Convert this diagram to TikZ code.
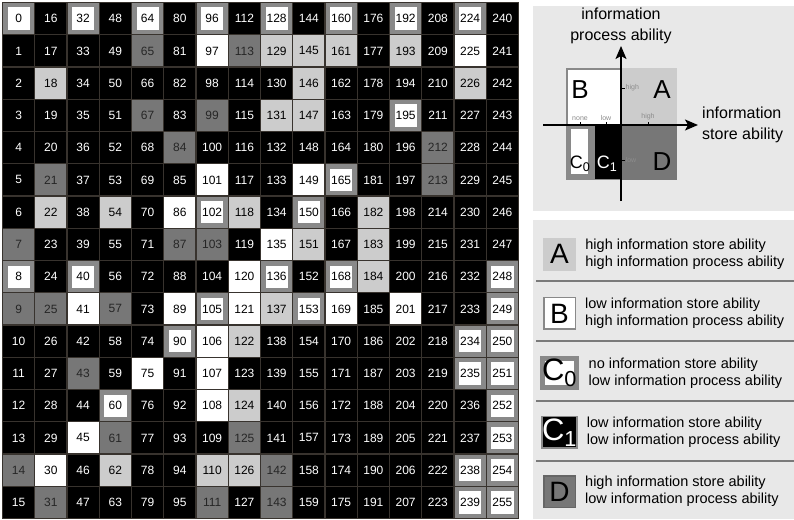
\documentclass[tikz,border=0pt]{standalone}
\usepackage{fontspec}
\setmainfont{Liberation Sans}
\usetikzlibrary{positioning,arrows.meta}
\definecolor{GridLine}{HTML}{38332E}
\definecolor{ClassA}{HTML}{CCCCCC}
\definecolor{ClassD}{HTML}{777777}
\definecolor{ClassCz}{HTML}{898989}
\definecolor{PanelBg}{HTML}{E8E8E8}
\definecolor{TickGray}{HTML}{8C8C8C}
\definecolor{SepGray}{HTML}{7A7A7A}
\tikzset{
  cell/.style={minimum size=32.25pt,inner sep=0pt,outer sep=0pt,
    font=\fontsize{12}{12}\selectfont},
  cell k/.style={cell,fill=black,text=white},
  cell a/.style={cell,fill=ClassA,text=black},
  cell b/.style={cell,fill=white,text=black},
  cell d/.style={cell,fill=ClassD,text=black!85},
  cell o/.style={cell,minimum size=27.25pt,draw=ClassCz,line width=5pt,
    fill=white,text=black},
  gridln/.style={draw=GridLine,line width=1.2pt},
  axis/.style={-{Stealth[length=13pt,width=11pt,inset=3pt]},line width=1.5pt},
  tick/.style={line width=0.7pt},
  ticklbl/.style={inner sep=1pt,font=\fontsize{7}{7}\selectfont,text=TickGray},
  axlbl/.style={inner sep=0pt,font=\fontsize{16}{21}\selectfont},
  qlbl/.style={inner sep=0pt,font=\fontsize{26}{26}\selectfont},
  qsub/.style={inner sep=0pt,font=\fontsize{18}{18}\selectfont},
  key/.style={minimum size=33pt,inner sep=0pt,font=\fontsize{28}{28}\selectfont},
  key a/.style={key,fill=ClassA},
  key b/.style={key,minimum size=31.5pt,fill=white,draw=ClassCz,line width=1.5pt},
  key o/.style={key,minimum size=28pt,fill=white,draw=ClassCz,line width=5pt,
    font=\fontsize{31}{31}\selectfont},
  key k/.style={key,minimum size=31.5pt,fill=black,draw=ClassCz,line width=1.5pt,
    text=white,font=\fontsize{31}{31}\selectfont},
  key d/.style={key,minimum size=31.5pt,fill=ClassD,draw=black!60,line width=1.5pt},
  keytxt/.style={inner sep=0pt,align=left,font=\fontsize{14.5}{17}\selectfont},
  sepline/.style={draw=SepGray,line width=1.2pt},
}
\newcommand{\cls}[1]{C\textsubscript{#1}}

\begin{document}
\begin{tikzpicture}[x=1pt,y=-1pt,node distance=26.25pt]
\useasboundingbox (0,0) rectangle (794,519);

% cells, one list per column (o = C0, k = C1)
\foreach \col [count=\c from 0] in {
  {o,k,k,k,k,k,k,d,o,d,k,k,k,k,d,k},
  {k,k,a,k,k,d,a,k,k,d,k,k,k,k,b,d},
  {o,k,k,k,k,k,k,k,o,b,k,d,k,b,k,k},
  {k,k,k,k,k,k,a,k,k,d,k,k,o,d,a,k},
  {o,d,k,d,k,k,k,k,k,k,k,b,k,k,k,k},
  {k,k,k,k,d,k,b,d,k,b,o,k,k,k,k,k},
  {o,b,k,d,k,b,o,d,k,o,b,b,b,k,a,d},
  {k,d,k,k,k,k,a,k,b,b,a,k,a,d,a,k},
  {o,a,k,a,k,k,k,b,o,a,k,k,k,k,d,d},
  {k,a,a,a,k,b,o,a,k,o,k,k,k,k,k,k},
  {o,a,k,k,k,o,k,k,o,b,k,k,k,k,k,k},
  {k,k,k,k,k,k,a,a,a,k,k,k,k,k,k,k},
  {o,a,k,o,k,k,k,k,k,b,k,k,k,k,k,k},
  {k,k,k,k,d,d,k,k,k,k,k,k,k,k,k,k},
  {o,b,a,k,k,k,k,k,k,k,o,o,k,k,o,o},
  {k,k,k,k,k,k,k,k,o,o,o,o,o,o,o,o}}{
  \foreach \k [count=\r from 0] in \col {
    \pgfmathtruncatemacro\num{16*\c+\r}
    \node[cell \k] (c\num) at ({2.5+32.25*(\c+0.5)},{2.5+32.25*(\r+0.5)}) {\num};
  }
}
\foreach \i in {0,...,16} {
  \draw[gridln] ({2.5+32.25*\i},2.5) -- ({2.5+32.25*\i},518.5);
  \draw[gridln] (2.5,{2.5+32.25*\i}) -- (518.5,{2.5+32.25*\i});
}

% panels
\fill[PanelBg] (533,6) rectangle (794,211);
\fill[PanelBg] (533,220) rectangle (794,519);

% quadrants
\fill[ClassA] (621,68) rectangle (677,125);
\draw[ClassCz,line width=1.5pt,fill=white] (566.75,68.75) rectangle (621,125);
\fill[ClassD] (621,125) rectangle (677,180);
\fill[ClassCz] (566,125) rectangle (594,180);
\fill[white] (571,129) rectangle (588,174);
\draw[ClassCz,line width=1.5pt,fill=black] (594,125) rectangle (621,179.25);
\node[qlbl] (lB) at (580,90) {B};
\node[qlbl] (lA) at (662,90) {A};
\node[qlbl] (lD) at (662,162) {D};
\node[qsub] (lCz) at (580,164) {\cls{0}};
\node[qsub,text=white] (lCo) at (607,164) {\cls{1}};

% axes
\coordinate (xa) at (543,125);
\coordinate (xb) at (698,125);
\coordinate (ya) at (621,201);
\coordinate (yb) at (621,46);
\draw[axis] (xa) -- (xb);
\draw[axis] (ya) -- (yb);
\foreach \x/\t in {580/none,606/low,648/high} {
  \draw[tick] (\x,125) -- (\x,121.5);
  \node[ticklbl,above] (tx\t) at (\x,121.5) {\t};
}
\foreach \y/\t in {88/high,160/low} {
  \draw[tick] (621,\y) -- (624.5,\y);
  \node[ticklbl,right] (ty\t) at (624.5,\y) {\t};
}
\node[axlbl,align=center,anchor=south] (ylbl) at (621,44.5)
  {information\\process ability};
\node[axlbl,align=left,anchor=west] (xlbl) at (702,124.5)
  {information\\store ability};

% legend
\node[key a] (keyA) at (559.5,254) {A};
\node[key b,below=of keyA] (keyB) {B};
\node[key o,below=of keyB] (keyCz) {\cls{0}};
\node[key k,below=of keyCz] (keyCo) {\cls{1}};
\node[key d,below=of keyCo] (keyD) {D};
\node[keytxt,right=9pt of keyA] (tA)
  {high information store ability\\high information process ability};
\node[keytxt,right=9pt of keyB] (tB)
  {low information store ability\\high information process ability};
\node[keytxt,right=9pt of keyCz] (tCz)
  {no information store ability\\low information process ability};
\node[keytxt,right=9pt of keyCo] (tCo)
  {low information store ability\\low information process ability};
\node[keytxt,right=9pt of keyD] (tD)
  {high information store ability\\low information process ability};
\foreach \y in {281,341,401,461}
  \draw[sepline] (536,\y) -- (794,\y);
\end{tikzpicture}
\end{document}
